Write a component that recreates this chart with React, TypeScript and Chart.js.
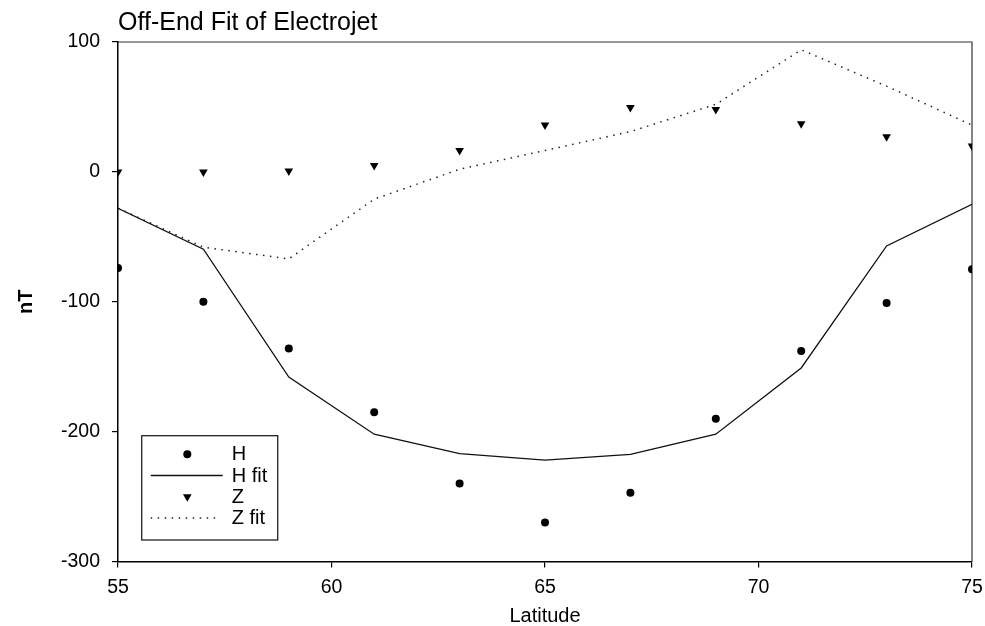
import React, { useEffect, useRef } from 'react';
import { Chart, registerables } from 'chart.js';

Chart.register(...registerables);

// ---- data ----
const latitude = [55, 57, 59, 61, 63, 65, 67, 69, 71, 73, 75];
const hObserved = [-74, -100, -136, -185, -240, -270, -247, -190, -138, -101, -75];
const hFit = [-28, -59.5, -158, -202, -217, -222, -217.5, -202, -151, -57, -25];
const zObserved = [0, 0, 0.6, 5, 16.5, 36, 49.5, 48, 37, 27, 20];
const zFit = [-28, -58, -67, -21, 2, 16.5, 31, 52, 94, 66, 36];
const xTicks = [55, 60, 65, 70, 75];
const yTicks = [-300, -200, -100, 0, 100];
const seriesLabels = ['H', 'H fit', 'Z', 'Z fit'];
const chartTitle = 'Off-End Fit of Electrojet';
const xTitle = 'Latitude';
const yTitle = 'nT';

const FONT = '"Liberation Sans", Arial, Helvetica, sans-serif';

const toPoints = (ys: number[]) => latitude.map((x, i) => ({ x, y: ys[i] }));

const frameAndLegend = {
  id: 'frameAndLegend',
  beforeDatasetsDraw(chart: any) {
    const { ctx, chartArea } = chart;
    ctx.save();
    ctx.strokeStyle = '#333';
    ctx.lineWidth = 1.2;
    ctx.beginPath();
    ctx.moveTo(chartArea.left, chartArea.top);
    ctx.lineTo(chartArea.right, chartArea.top);
    ctx.lineTo(chartArea.right, chartArea.bottom);
    ctx.stroke();
    ctx.restore();
  },
  afterDatasetsDraw(chart: any) {
    const { ctx, chartArea } = chart;
    const x0 = chartArea.left + 23.7;
    const y0 = chartArea.bottom - 125.8;
    const w = 136;
    const h = 104.3;
    ctx.save();
    ctx.fillStyle = '#fff';
    ctx.fillRect(x0, y0, w, h);
    ctx.strokeStyle = '#222';
    ctx.lineWidth = 1.3;
    ctx.strokeRect(x0, y0, w, h);
    chart.data.datasets.forEach((ds: any, i: number) => {
      const cy = y0 + 18.5 + i * 21.3;
      const sx0 = x0 + 9;
      const sx1 = x0 + 81;
      const cx = x0 + 45.6;
      if (ds.showLine) {
        ctx.save();
        ctx.setLineDash(ds.borderDash || []);
        ctx.lineWidth = ds.borderWidth;
        ctx.strokeStyle = ds.borderColor;
        ctx.beginPath();
        ctx.moveTo(sx0, cy);
        ctx.lineTo(ds.borderDash ? sx1 - 6 : sx1, cy);
        ctx.stroke();
        ctx.restore();
      } else {
        ctx.fillStyle = ds.backgroundColor;
        const r = ds.pointRadius;
        if (ds.pointStyle === 'triangle') {
          ctx.beginPath();
          ctx.moveTo(cx, cy + r);
          ctx.lineTo(cx - r * 0.866, cy - r * 0.5);
          ctx.lineTo(cx + r * 0.866, cy - r * 0.5);
          ctx.closePath();
          ctx.fill();
        } else {
          ctx.beginPath();
          ctx.arc(cx, cy, r, 0, Math.PI * 2);
          ctx.fill();
        }
      }
      ctx.fillStyle = '#000';
      ctx.font = `20px ${FONT}`;
      ctx.textAlign = 'left';
      ctx.textBaseline = 'middle';
      ctx.fillText(ds.label, x0 + 90, cy + 0.5);
    });
    ctx.restore();
  },
};

export default function App() {
  const canvasRef = useRef<HTMLCanvasElement | null>(null);

  useEffect(() => {
    const canvas = canvasRef.current;
    if (!canvas) return;
    Chart.defaults.font.family = FONT;
    Chart.defaults.color = '#000';

    const chart = new Chart(canvas, {
      type: 'scatter',
      data: {
        datasets: [
          {
            label: seriesLabels[0],
            data: toPoints(hObserved),
            showLine: false,
            pointStyle: 'circle',
            pointRadius: 4,
            backgroundColor: '#000',
            borderColor: '#000',
            borderWidth: 0,
          },
          {
            label: seriesLabels[1],
            data: toPoints(hFit),
            showLine: true,
            pointRadius: 0,
            borderColor: '#111',
            borderWidth: 1.3,
            tension: 0,
          },
          {
            label: seriesLabels[2],
            data: toPoints(zObserved),
            showLine: false,
            pointStyle: 'triangle',
            rotation: 180,
            pointRadius: 5,
            backgroundColor: '#000',
            borderColor: '#000',
            borderWidth: 0,
          },
          {
            label: seriesLabels[3],
            data: toPoints(zFit),
            showLine: true,
            pointRadius: 0,
            borderColor: '#222',
            borderWidth: 1.5,
            borderDash: [1.5, 5.5],
            tension: 0,
          },
        ],
      },
      options: {
        responsive: false,
        animation: false,
        events: [],
        layout: { padding: { top: 0, right: 13, left: 0, bottom: 0 } },
        plugins: {
          legend: { display: false },
          tooltip: { enabled: false },
          title: {
            display: true,
            text: chartTitle,
            align: 'start',
            fullSize: false,
            color: '#000',
            font: { size: 25, weight: 'normal', family: FONT, lineHeight: 1.2 },
            padding: { top: 8.6, bottom: 3.4 },
          },
        },
        scales: {
          x: {
            type: 'linear',
            min: 55,
            max: 75,
            afterBuildTicks: (s: any) => {
              s.ticks = xTicks.map((v) => ({ value: v }));
            },
            afterFit: (s: any) => {
              s.height = 64.5;
              s.paddingLeft = 0;
              s.paddingRight = 0;
            },
            ticks: {
              color: '#000',
              font: { size: 19.5, family: FONT },
              padding: 8,
              maxRotation: 0,
              autoSkip: false,
            },
            grid: {
              drawOnChartArea: false,
              drawTicks: true,
              tickLength: 6,
              color: '#000',
              lineWidth: 1.2,
            },
            border: { display: true, color: '#000', width: 1.5 },
            title: {
              display: true,
              text: xTitle,
              color: '#000',
              font: { size: 20, family: FONT, lineHeight: 1 },
              padding: { top: 0, bottom: 0 },
            },
          },
          y: {
            type: 'linear',
            min: -300,
            max: 100,
            afterBuildTicks: (s: any) => {
              s.ticks = yTicks.map((v) => ({ value: v }));
            },
            afterFit: (s: any) => {
              s.width = 118;
              s.paddingTop = 0;
              s.paddingBottom = 0;
            },
            ticks: {
              color: '#000',
              font: { size: 19.5, family: FONT },
              padding: 12,
              autoSkip: false,
            },
            grid: {
              drawOnChartArea: false,
              drawTicks: true,
              tickLength: 6,
              color: '#000',
              lineWidth: 1.2,
            },
            border: { display: true, color: '#000', width: 1.5 },
            title: {
              display: true,
              text: yTitle,
              color: '#000',
              font: { size: 20, weight: 'bold', family: FONT, lineHeight: 1.2 },
              padding: { top: 14, bottom: 0 },
            },
          },
        },
      },
      plugins: [frameAndLegend],
    } as any);

    return () => chart.destroy();
  }, []);

  return (
    <div style={{ position: 'fixed', left: 0, top: 0, width: 985, height: 626, background: '#fff' }}>
      <canvas ref={canvasRef} width={985} height={626} style={{ display: 'block', width: 985, height: 626 }} />
    </div>
  );
}
